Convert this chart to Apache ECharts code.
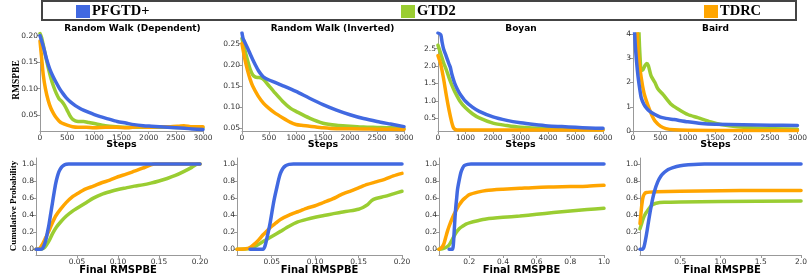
<!DOCTYPE html>
<html><head><meta charset="utf-8">
<script src="https://cdn.jsdelivr.net/npm/echarts@6/dist/echarts.min.js"></script>
<style>html,body{margin:0;padding:0;background:#fff}#c{width:810px;height:275px}</style>
</head><body><div id="c"></div>
<script>
// ---------- series names / colours ----------
const seriesNames = ['PFGTD+', 'GTD2', 'TDRC'];
const panelTitles = ['Random Walk (Dependent)', 'Random Walk (Inverted)', 'Boyan', 'Baird'];

// ---------- Random Walk (Dependent) : RMSPBE vs steps ----------
const rwdPfgtdX = [0,60,120,180,240,300,360,420,480,560,650,730,810,900,1000,1110,1250,1420,1580,1730,1900,2050,2200,2350,2500,2660,2800,3000];
const rwdPfgtdY = [0.200,0.180,0.156,0.137,0.123,0.111,0.100,0.091,0.083,0.075,0.068,0.063,0.059,0.055,0.051,0.047,0.043,0.038,0.035,0.032,0.030,0.029,0.028,0.027,0.026,0.025,0.024,0.023];
const rwdGtd2X = [0,30,60,100,150,200,250,300,350,400,450,500,550,600,650,700,800,900,1000,1200,1400,1600,1800,2000,2400,2800,3000];
const rwdGtd2Y = [0.204,0.196,0.182,0.163,0.140,0.120,0.104,0.091,0.081,0.076,0.069,0.059,0.049,0.042,0.039,0.038,0.038,0.036,0.034,0.030,0.028,0.027,0.027,0.027,0.027,0.026,0.026];
const rwdTdrcX = [0,30,60,100,150,200,250,300,350,400,500,600,700,850,1000,1200,1400,1600,1800,2000,2200,2400,2550,2650,2800,3000];
const rwdTdrcY = [0.190,0.158,0.126,0.100,0.078,0.063,0.053,0.045,0.039,0.035,0.031,0.028,0.027,0.027,0.026,0.027,0.027,0.026,0.028,0.027,0.028,0.028,0.029,0.030,0.028,0.028];

// ---------- Random Walk (Inverted) ----------
const rwiPfgtdX = [0,20,50,100,150,200,250,300,350,400,500,600,750,1000,1250,1500,1750,2000,2250,2500,2750,3000];
const rwiPfgtdY = [0.275,0.262,0.254,0.240,0.226,0.212,0.199,0.187,0.178,0.171,0.164,0.159,0.151,0.137,0.121,0.106,0.093,0.082,0.073,0.066,0.060,0.054];
const rwiGtd2X = [0,50,100,150,200,250,300,350,400,500,600,750,900,1000,1250,1500,1750,2000,2250,2500,2750,3000];
const rwiGtd2Y = [0.262,0.236,0.212,0.190,0.176,0.171,0.170,0.169,0.165,0.150,0.135,0.114,0.097,0.090,0.074,0.062,0.057,0.055,0.053,0.052,0.051,0.049];
const rwiTdrcX = [0,50,100,150,200,300,400,500,600,750,900,1000,1100,1250,1500,1750,2000,2500,3000];
const rwiTdrcY = [0.250,0.215,0.188,0.166,0.149,0.126,0.109,0.097,0.087,0.075,0.064,0.059,0.057,0.055,0.051,0.049,0.049,0.048,0.047];

// ---------- Boyan ----------
const boyPfgtdX = [0,100,150,200,300,400,450,500,600,700,800,1000,1250,1500,2000,2500,3000,3500,4000,4500,5000,5500,6000];
const boyPfgtdY = [2.95,2.90,2.68,2.50,2.28,2.06,1.96,1.78,1.52,1.34,1.20,0.99,0.82,0.70,0.54,0.44,0.37,0.32,0.28,0.26,0.24,0.22,0.21];
const boyGtd2X = [0,100,200,300,400,500,600,800,1000,1250,1500,2000,2500,3000,4000,5000,6000];
const boyGtd2Y = [2.60,2.35,2.10,1.90,1.67,1.46,1.28,0.99,0.80,0.63,0.51,0.36,0.29,0.24,0.20,0.18,0.17];
const boyTdrcX = [0,100,200,300,400,500,550,600,650,700,1000,2000,3000,4000,5000,6000];
const boyTdrcY = [2.30,2.05,1.65,1.17,0.74,0.38,0.25,0.19,0.17,0.165,0.165,0.165,0.165,0.165,0.165,0.165];

// ---------- Baird ----------
const baiPfgtdX = [0,20,40,60,80,100,125,150,200,250,300,400,500,600,750,1000,1250,1500,2000,2500,3000];
const baiPfgtdY = [6.0,4.5,3.6,3.0,2.5,2.1,1.7,1.37,1.09,0.93,0.82,0.68,0.57,0.52,0.47,0.38,0.31,0.28,0.26,0.24,0.23];
const baiGtd2X = [0,90,110,130,150,180,220,250,280,330,400,450,550,700,820,1000,1180,1420,1600,1900,2500,3000];
const baiGtd2Y = [6.0,6.0,4.0,3.0,2.5,2.52,2.70,2.78,2.70,2.27,2.00,1.75,1.50,1.09,0.91,0.68,0.55,0.37,0.27,0.18,0.10,0.07];
const baiTdrcX = [0,60,80,100,150,200,250,300,350,400,500,600,750,1000,2000,3000];
const baiTdrcY = [6.0,6.0,4.0,3.1,2.2,1.57,1.2,0.89,0.62,0.42,0.20,0.10,0.05,0.03,0.02,0.02];

// ---------- CDFs : Random Walk (Dependent) ----------
const cdf1PfgtdX = [0,0.005,0.008,0.010,0.012,0.014,0.016,0.018,0.020,0.022,0.024,0.026,0.028,0.031,0.034,0.037,0.040,0.200];
const cdf1PfgtdY = [0,0,0.01,0.05,0.11,0.20,0.30,0.42,0.54,0.66,0.77,0.85,0.91,0.96,0.985,0.997,1.0,1.0];
const cdf1Gtd2X = [0,0.006,0.009,0.012,0.016,0.020,0.025,0.030,0.037,0.045,0.050,0.060,0.070,0.080,0.090,0.100,0.110,0.120,0.130,0.140,0.150,0.160,0.170,0.180,0.190,0.197,0.200];
const cdf1Gtd2Y = [0,0,0.01,0.04,0.10,0.18,0.26,0.32,0.39,0.45,0.48,0.54,0.60,0.645,0.675,0.70,0.72,0.74,0.755,0.775,0.80,0.83,0.865,0.91,0.96,1.0,1.0];
const cdf1TdrcX = [0,0.004,0.008,0.012,0.016,0.020,0.024,0.030,0.037,0.045,0.050,0.060,0.070,0.080,0.090,0.100,0.110,0.120,0.130,0.140,0.145,0.200];
const cdf1TdrcY = [0,0.005,0.06,0.14,0.22,0.31,0.39,0.47,0.55,0.62,0.65,0.705,0.74,0.78,0.81,0.85,0.88,0.915,0.95,0.99,1.0,1.0];

// ---------- CDFs : Random Walk (Inverted) ----------
const cdf2PfgtdX = [0.025,0.040,0.042,0.044,0.046,0.048,0.050,0.052,0.054,0.056,0.058,0.060,0.063,0.066,0.070,0.075,0.200];
const cdf2PfgtdY = [0,0,0.03,0.11,0.20,0.30,0.42,0.54,0.64,0.73,0.82,0.89,0.95,0.98,0.995,1.0,1.0];
const cdf2Gtd2X = [0.010,0.025,0.030,0.035,0.040,0.045,0.050,0.060,0.070,0.080,0.090,0.100,0.110,0.120,0.130,0.140,0.150,0.155,0.160,0.165,0.170,0.180,0.190,0.200];
const cdf2Gtd2Y = [0,0.01,0.03,0.06,0.09,0.12,0.15,0.21,0.27,0.32,0.35,0.375,0.395,0.415,0.435,0.45,0.47,0.49,0.52,0.57,0.595,0.62,0.65,0.68];
const cdf2TdrcX = [0.010,0.020,0.025,0.030,0.035,0.040,0.045,0.050,0.055,0.060,0.070,0.080,0.090,0.100,0.110,0.120,0.130,0.140,0.150,0.160,0.170,0.180,0.190,0.200];
const cdf2TdrcY = [0,0.005,0.02,0.06,0.11,0.17,0.22,0.27,0.31,0.35,0.40,0.44,0.48,0.51,0.55,0.59,0.64,0.68,0.72,0.76,0.79,0.82,0.86,0.89];

// ---------- CDFs : Boyan ----------
const cdf3PfgtdX = [0.080,0.100,0.105,0.110,0.115,0.120,0.125,0.130,0.140,0.150,0.160,0.170,0.190,0.210,1.000];
const cdf3PfgtdY = [0,0,0.05,0.20,0.37,0.50,0.60,0.70,0.81,0.90,0.95,0.98,0.995,1.0,1.0];
const cdf3Gtd2X = [0.020,0.040,0.060,0.080,0.100,0.120,0.140,0.160,0.180,0.200,0.250,0.300,0.400,0.500,0.600,0.700,0.800,0.900,1.000];
const cdf3Gtd2Y = [0,0.005,0.02,0.05,0.12,0.19,0.24,0.27,0.295,0.31,0.335,0.355,0.375,0.39,0.41,0.43,0.45,0.465,0.48];
const cdf3TdrcX = [0.020,0.030,0.040,0.050,0.060,0.070,0.080,0.100,0.120,0.140,0.160,0.180,0.200,0.250,0.300,0.400,0.500,0.600,0.700,0.800,0.900,1.000];
const cdf3TdrcY = [0,0.01,0.03,0.07,0.14,0.21,0.27,0.37,0.45,0.52,0.575,0.61,0.64,0.67,0.69,0.705,0.715,0.725,0.73,0.735,0.74,0.75];

// ---------- CDFs : Baird ----------
const cdf4PfgtdX = [0,0.030,0.050,0.070,0.090,0.110,0.130,0.150,0.180,0.220,0.260,0.300,0.350,0.400,0.500,0.600,0.800,2.000];
const cdf4PfgtdY = [0,0,0.03,0.12,0.23,0.35,0.46,0.56,0.68,0.79,0.86,0.90,0.935,0.955,0.98,0.99,1.0,1.0];
const cdf4Gtd2X = [0,0.020,0.040,0.070,0.100,0.130,0.160,0.200,0.300,0.500,1.000,2.000];
const cdf4Gtd2Y = [0.24,0.30,0.36,0.42,0.46,0.50,0.525,0.54,0.55,0.555,0.56,0.565];
const cdf4TdrcX = [0,0.010,0.020,0.030,0.040,0.060,0.080,0.120,0.200,0.500,1.000,1.500,2.000];
const cdf4TdrcY = [0.30,0.40,0.50,0.57,0.62,0.655,0.665,0.67,0.675,0.68,0.685,0.69,0.69];

// ---------- tick values ----------
const steps3000Ticks = [0,500,1000,1500,2000,2500,3000];
const steps6000Ticks = [0,1000,2000,3000,4000,5000,6000];
const rwdYTicks = [0.05,0.10,0.15,0.20];
const rwiYTicks = [0.05,0.10,0.15,0.20,0.25];
const boyYTicks = [0.5,1.0,1.5,2.0,2.5];
const baiYTicks = [0,1,2,3,4];
const probTicks = [0.0,0.2,0.4,0.6,0.8,1.0];
const rmsSmallTicks = [0.05,0.10,0.15,0.20];
const boyCdfXTicks = [0.2,0.4,0.6,0.8,1.0];
const baiCdfXTicks = [0.5,1.0,1.5,2.0];

// ---------- build ----------
const colors = {'PFGTD+':'#4169E1','GTD2':'#9ACD32','TDRC':'#FFA500'};
function pairs(xs, ys){ return xs.map((x,i)=>[x, ys[i]]); }

const panels = [
  // top row
  {grid:{left:40,top:33,width:163,height:98}, x:[0,3000,steps3000Ticks,0], y:[0.02,0.205,rwdYTicks,2],
   d:{'PFGTD+':[rwdPfgtdX,rwdPfgtdY],'GTD2':[rwdGtd2X,rwdGtd2Y],'TDRC':[rwdTdrcX,rwdTdrcY]}},
  {grid:{left:242,top:33,width:162,height:98}, x:[0,3000,steps3000Ticks,0], y:[0.0436,0.275,rwiYTicks,2],
   d:{'PFGTD+':[rwiPfgtdX,rwiPfgtdY],'GTD2':[rwiGtd2X,rwiGtd2Y],'TDRC':[rwiTdrcX,rwiTdrcY]}},
  {grid:{left:438,top:33,width:165,height:98}, x:[0,6000,steps6000Ticks,0], y:[0.134,2.95,boyYTicks,1],
   d:{'PFGTD+':[boyPfgtdX,boyPfgtdY],'GTD2':[boyGtd2X,boyGtd2Y],'TDRC':[boyTdrcX,boyTdrcY]}},
  {grid:{left:633,top:34,width:165,height:97}, x:[0,3000,steps3000Ticks,0], y:[0,4,baiYTicks,0],
   d:{'PFGTD+':[baiPfgtdX,baiPfgtdY],'GTD2':[baiGtd2X,baiGtd2Y],'TDRC':[baiTdrcX,baiTdrcY]}},
  // bottom row
  {grid:{left:36,top:158,width:164,height:97}, x:[0,0.2,rmsSmallTicks,2], y:[-0.067,1.07,probTicks,1],
   d:{'PFGTD+':[cdf1PfgtdX,cdf1PfgtdY],'GTD2':[cdf1Gtd2X,cdf1Gtd2Y],'TDRC':[cdf1TdrcX,cdf1TdrcY]}},
  {grid:{left:237,top:158,width:165,height:97}, x:[0.01,0.2,rmsSmallTicks,2], y:[-0.067,1.07,probTicks,1],
   d:{'PFGTD+':[cdf2PfgtdX,cdf2PfgtdY],'GTD2':[cdf2Gtd2X,cdf2Gtd2Y],'TDRC':[cdf2TdrcX,cdf2TdrcY]}},
  {grid:{left:439,top:158,width:165,height:97}, x:[0.02,1.0,boyCdfXTicks,1], y:[-0.067,1.07,probTicks,1],
   d:{'PFGTD+':[cdf3PfgtdX,cdf3PfgtdY],'GTD2':[cdf3Gtd2X,cdf3Gtd2Y],'TDRC':[cdf3TdrcX,cdf3TdrcY]}},
  {grid:{left:640,top:158,width:164,height:97}, x:[0,2.0,baiCdfXTicks,1], y:[-0.067,1.07,probTicks,1],
   d:{'PFGTD+':[cdf4PfgtdX,cdf4PfgtdY],'GTD2':[cdf4Gtd2X,cdf4Gtd2Y],'TDRC':[cdf4TdrcX,cdf4TdrcY]}}
];

const axisColor = '#999';
const labelStyle = {fontFamily:'DejaVu Sans', fontSize:7.5, color:'#333'};
function mkAxis(i, spec, isX){
  const [mn, mx, ticks, dec] = spec;
  return {
    type:'value', gridIndex:i, min:mn, max:mx,
    axisLine:{show:true, onZero:false, lineStyle:{color:axisColor, width:1}},
    axisTick:{show:true, length:3, customValues:ticks, lineStyle:{color:axisColor}},
    axisLabel:Object.assign({customValues:ticks, margin:isX?3:2, hideOverlap:false,
      formatter:v=>Number(v).toFixed(dec)}, labelStyle),
    splitLine:{show:false}
  };
}

const grids=[], xAxes=[], yAxes=[], series=[];
panels.forEach((p,i)=>{
  grids.push(Object.assign({containLabel:false}, p.grid));
  xAxes.push(mkAxis(i, p.x, true));
  yAxes.push(mkAxis(i, p.y, false));
  ['GTD2','TDRC','PFGTD+'].forEach(name=>{
    const [xs, ys] = p.d[name];
    series.push({
      type:'line', name:name, xAxisIndex:i, yAxisIndex:i,
      data:pairs(xs, ys), showSymbol:false, symbol:'none', smooth:0.25, clip:true,
      lineStyle:{width:3.5, color:colors[name], cap:'round', join:'round'},
      itemStyle:{color:colors[name]}, emphasis:{disabled:true}
    });
  });
});

const legendText = {fontFamily:'Liberation Serif', fontWeight:'bold', fontSize:14.5, color:'#000'};
const legendLefts = [76, 401, 704];
const legends = seriesNames.map((n,k)=>({
  data:[n], left:legendLefts[k], top:4, padding:0, icon:'rect', itemWidth:14, itemHeight:13,
  itemGap:0, textStyle:Object.assign({padding:[0,0,0,-3]}, legendText), selectedMode:false, z:10
}));

function txt(x, y, text, font, rot){
  return {type:'text', x:x, y:y, rotation:rot||0, z:20,
    style:{text:text, font:font, fill:'#000', textAlign:'center', textVerticalAlign:'middle', align:'center', verticalAlign:'middle'}};
}
const titleFont = 'bold 9px "DejaVu Sans"';
const graphics = [
  {type:'rect', shape:{x:42, y:1, width:754, height:19}, style:{fill:'#fff', stroke:'#444', lineWidth:2}, z:0}
];
const titleX = [132.5, 332.5, 521, 715.5];
panelTitles.forEach((t,k)=>graphics.push(txt(titleX[k], 29, t, titleFont)));
[121.5, 323, 520.5, 715.5].forEach(x=>graphics.push(txt(x, 144.5, 'Steps', 'bold 9.5px "DejaVu Sans"')));
[118, 319.5, 521.5, 722].forEach(x=>graphics.push(txt(x, 270.5, 'Final RMSPBE', 'bold 10px "DejaVu Sans"')));
graphics.push(txt(17, 80, 'RMSPBE', 'bold 9.5px "Liberation Serif"', Math.PI/2));
graphics.push(txt(14, 206, 'Cumulative Probability', 'bold 9px "Liberation Serif"', Math.PI/2));

const chart = echarts.init(document.getElementById('c'), null, {renderer:'canvas'});
chart.setOption({
  animation:false, backgroundColor:'#fff',
  legend:legends, grid:grids, xAxis:xAxes, yAxis:yAxes, series:series, graphic:graphics
});
</script></body></html>
